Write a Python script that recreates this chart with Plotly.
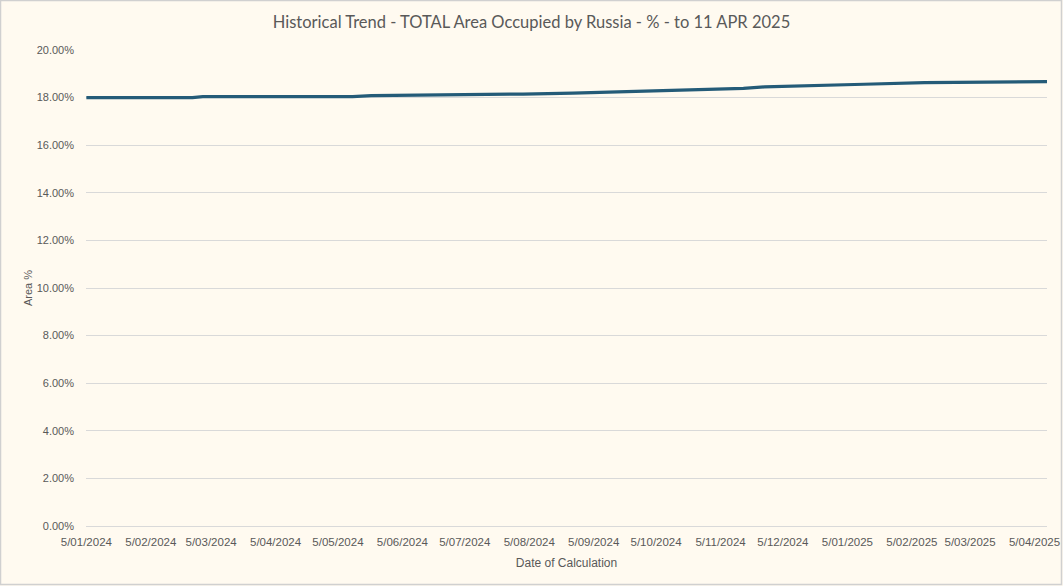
import plotly.graph_objects as go
import pandas as pd

dates = ["2024-01-05", "2024-02-25", "2024-03-01", "2024-05-12", "2024-05-21",
         "2024-06-09", "2024-06-21", "2024-07-28", "2024-08-02", "2024-08-26",
         "2024-09-09", "2024-09-30", "2024-10-23", "2024-11-11", "2024-11-16",
         "2024-11-26", "2024-12-14", "2025-01-13", "2025-02-11", "2025-03-25",
         "2025-04-11"]
area_pct = [18.00, 18.00, 18.04, 18.04, 18.08,
            18.09, 18.12, 18.12, 18.15, 18.19,
            18.22, 18.26, 18.33, 18.38, 18.39,
            18.45, 18.50, 18.56, 18.63, 18.66,
            18.67]

tick_dates = [d.strftime("%Y-%m-%d") for d in
              pd.date_range("2024-01-01", "2025-04-01", freq="MS") + pd.Timedelta(days=4)]
tick_labels = [pd.Timestamp(d).strftime("%-d/%m/%Y") for d in tick_dates]
y_ticks = [0, 0.02, 0.04, 0.06, 0.08, 0.10, 0.12, 0.14, 0.16, 0.18, 0.20]

W, H = 1063, 586
ml, mr, mt, mb = 86, 16, 50, 60
pw, ph = W - ml - mr, H - mt - mb
TXT = "#595959"

fig = go.Figure()
fig.add_trace(go.Scatter(
    x=dates, y=[v / 100 for v in area_pct],
    mode="lines", line=dict(color="#245B78", width=3.2),
    hoverinfo="x+y",
))

fig.update_layout(
    template="none",
    width=W, height=H,
    margin=dict(l=ml, r=mr, t=mt, b=mb, autoexpand=False),
    paper_bgcolor="#FFFAF0", plot_bgcolor="#FFFAF0",
    showlegend=False,
    title=dict(text="Historical Trend - TOTAL Area Occupied by Russia - % - to 11 APR 2025",
               x=0.5, xanchor="center", xref="container",
               y=1 - 22 / H, yanchor="middle", yref="container",
               font=dict(family="Lato", size=16.5, color=TXT)),
    xaxis=dict(
        type="date", automargin=False,
        range=["2024-01-04 20:00", "2025-04-11"],
        tickmode="array", tickvals=tick_dates, ticktext=tick_labels,
        ticklabeloverflow="allow", ticklabelstandoff=7,
        showgrid=False, zeroline=False, showline=False, ticks="",
        tickfont=dict(family="Liberation Sans", size=11.5, color=TXT),
        title=dict(text="Date of Calculation", standoff=12,
                   font=dict(family="Liberation Sans", size=12, color=TXT)),
    ),
    yaxis=dict(
        automargin=False,
        range=[0, 0.20], tickvals=y_ticks, tickformat=".2%",
        ticklabelstandoff=11,
        showgrid=True, gridcolor="#D9D9D9", gridwidth=1,
        zeroline=True, zerolinecolor="#D9D9D9", zerolinewidth=1,
        showline=False, ticks="",
        tickfont=dict(family="Liberation Sans", size=11, color=TXT),
        title=dict(text="Area %", standoff=1,
                   font=dict(family="Liberation Sans", size=11, color=TXT)),
    ),
    shapes=[dict(type="rect", xref="paper", yref="paper",
                 x0=(-ml + 0.5) / pw, x1=(pw + mr - 1.5) / pw,
                 y0=(-mb + 1.5) / ph, y1=(ph + mt - 0.5) / ph,
                 line=dict(color="#D0D0D0", width=1.5), layer="below")],
)

fig.write_html("out.html", config={"displayModeBar": False},
               post_script="document.body.style.margin='0';document.body.style.overflow='hidden';")
